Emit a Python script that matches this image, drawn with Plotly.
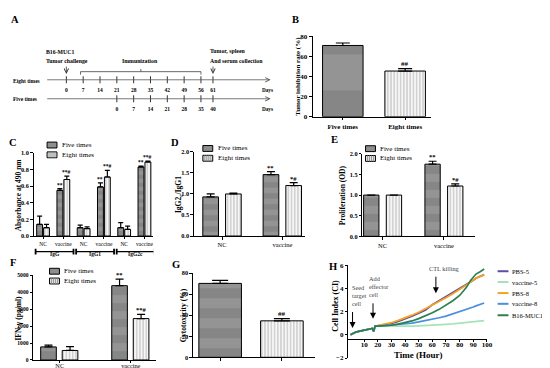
import plotly.graph_objects as go

W, H = 550, 368
def PX(v): return v / W
def PY(v): return 1 - v / H
SERIF = "Liberation Serif"

# ---------------- data ----------------
# A: immunization schedule (days)
eight_days = [0, 7, 14, 21, 28, 35, 42, 49, 56, 61]
five_days = [0, 7, 14, 21, 28, 35, 40]
five_start = 21          # five-times day 0 == eight-times day 21

# B: tumor inhibition rate (%)
b_labels = ["Five times", "Eight times"]
b_values = [71.0, 45.5]
b_errors = [2.5, 2.5]
b_marks = ["", "##"]

# C: antibody absorbance at 490 nm
c_ticks = ["NC", "vaccine", "NC", "vaccine", "NC", "vaccine"]
c_groups = ["IgG", "IgG1", "IgG2c"]
c_five = [0.14, 0.55, 0.10, 0.59, 0.10, 0.83]
c_five_err = [0.10, 0.02, 0.03, 0.05, 0.06, 0.01]
c_eight = [0.10, 0.68, 0.09, 0.71, 0.08, 0.89]
c_eight_err = [0.04, 0.04, 0.02, 0.08, 0.04, 0.01]
c_five_marks = ["", "**", "", "**", "", "**"]
c_eight_marks = ["", "**#", "", "**#", "", "**#"]

series_names = ["Five times", "Eight times"]
nc_vac = ["NC", "vaccine"]

# D: IgG2c / IgG1
d_five = [0.93, 1.46]
d_five_err = [0.07, 0.07]
d_eight = [1.00, 1.20]
d_eight_err = [0.02, 0.07]
d_five_marks = ["", "**"]
d_eight_marks = ["", "*#"]

# E: proliferation (OD)
e_five = [1.00, 1.75]
e_five_err = [0.0, 0.07]
e_eight = [1.00, 1.22]
e_eight_err = [0.0, 0.05]
e_five_marks = ["", "**"]
e_eight_marks = ["", "*#"]

# F: IFN-gamma (pg/ml)
f_five = [770, 4380]
f_five_err = [110, 380]
f_eight = [560, 2440]
f_eight_err = [230, 250]
f_five_marks = ["", "**"]
f_eight_marks = ["", "**#"]

# G: cytotoxicity (%)
g_values = [70.3, 34.7]
g_errors = [2.8, 2.2]
g_marks = ["", "##"]

# H: cell index over time
h_hours = [0, 2, 4, 6, 8, 10, 12, 14, 16, 17, 18, 20, 25, 30, 35, 40, 45, 50,
           55, 60, 65, 70, 75, 80, 85, 88, 90, 92, 95, 98]
h_start = [0, 0.15, 0.25, 0.3, 0.35, 0.4, 0.45, 0.5, 0.55, 0.3, 0.75]
h_pbs5 = h_start + [0.78, 0.86, 0.98, 1.16, 1.36, 1.6, 1.86, 2.15, 2.6, 2.95, 3.3,
                    3.62, 3.95, 4.3, 4.55, 4.72, 4.88, 5.05, 5.2]
h_vac5 = h_start + [0.75, 0.74, 0.74, 0.74, 0.75, 0.76, 0.78, 0.8, 0.83, 0.87, 0.91,
                    0.95, 1.0, 1.05, 1.09, 1.12, 1.15, 1.19, 1.22]
h_pbs8 = h_start + [0.8, 0.9, 1.05, 1.25, 1.45, 1.7, 1.95, 2.25, 2.55, 2.88, 3.2,
                    3.55, 3.9, 4.3, 4.55, 4.75, 4.9, 5.05, 5.18]
h_vac8 = h_start + [0.76, 0.8, 0.84, 0.88, 0.93, 1.02, 1.12, 1.22, 1.35, 1.48, 1.62,
                    1.8, 2.0, 2.2, 2.32, 2.4, 2.5, 2.62, 2.75]
h_b16 = h_start + [0.75, 0.78, 0.83, 0.93, 1.05, 1.2, 1.4, 1.62, 1.9, 2.2, 2.55,
                   2.95, 3.4, 4.1, 4.7, 5.0, 5.25, 5.45, 5.68]
h_names = ["PBS-5", "vaccine-5", "PBS-8", "vaccine-8", "B16-MUC1"]
h_series = [h_pbs5, h_vac5, h_pbs8, h_vac8, h_b16]
h_colors = ["#5a4ea6", "#a6e3b8", "#f7a220", "#4a90dc", "#2b8050"]

# ---------------- styles ----------------
FIVE_BG, FIVE_FG = "#868686", "#a2a2a2"
EIGHT_BG, EIGHT_FG = "#f6f6f6", "#7c7c7c"

fig = go.Figure()
annotations = []
shapes = []

def txt(x, y, s, size=7, bold=False, xref="paper", yref="paper", xanchor="center",
        yanchor="middle", angle=0, color="black", align="center"):
    annotations.append(dict(x=x, y=y, xref=xref, yref=yref, text=s, showarrow=False,
                            xanchor=xanchor, yanchor=yanchor, textangle=angle, align=align,
                            font=dict(family=SERIF, size=size, color=color,
                                      weight="bold" if bold else "normal")))

def five_marker(size):
    return dict(color=FIVE_BG, line=dict(color="black", width=1),
                pattern=dict(shape="-", bgcolor=FIVE_BG, fgcolor=FIVE_FG, size=size, solidity=0.5))

def eight_marker(size=3.2):
    return dict(color=EIGHT_BG, line=dict(color="black", width=1),
                pattern=dict(shape="|", bgcolor=EIGHT_BG, fgcolor=EIGHT_FG, size=size, solidity=0.3))

def err(vals, w):
    return dict(type="data", array=vals, arrayminus=[0] * len(vals), symmetric=False,
                color="black", thickness=1.2, width=w)

def marks(ax, xs, width, offset, vals, errs, labels, size=6.5):
    for x, v, e, s in zip(xs, vals, errs, labels):
        if s:
            annotations.append(dict(x=x + offset + width / 2, y=v + e, xref=ax[0], yref=ax[1],
                                    text=s, showarrow=False, yanchor="bottom", yshift=-1,
                                    font=dict(family=SERIF, size=size, color="black", weight="bold")))

def pair_panel(ax, five, five_e, eight, eight_e, width, off5, off8, psize, errw, m5, m8, msize=6.5):
    xs = list(range(len(five)))
    fig.add_trace(go.Bar(x=xs, y=five, width=width, offset=off5, xaxis=ax[0], yaxis=ax[1],
                         marker=five_marker(psize), error_y=err(five_e, errw), name=series_names[0]))
    fig.add_trace(go.Bar(x=xs, y=eight, width=width, offset=off8, xaxis=ax[0], yaxis=ax[1],
                         marker=eight_marker(), error_y=err(eight_e, errw), name=series_names[1]))
    marks(ax, xs, width, off5, five, five_e, m5, msize)
    marks(ax, xs, width, off8, eight, eight_e, m8, msize)

def legend_box(x0, yc, size=7):
    # swatches + labels for the two series
    for i, nm in enumerate(series_names):
        y = yc + i * 10
        shapes.append(dict(type="rect", xref="paper", yref="paper", x0=PX(x0), x1=PX(x0 + 10),
                           y0=PY(y + 3), y1=PY(y - 3), line=dict(color="black", width=1),
                           fillcolor="#8e8e8e" if i == 0 else "#e4e4e4"))
        if i == 1:
            for k in range(1, 5):
                xx = x0 + 2 * k
                shapes.append(dict(type="line", xref="paper", yref="paper", x0=PX(xx), x1=PX(xx),
                                   y0=PY(y + 3), y1=PY(y - 3), line=dict(color="#888", width=0.8)))
        txt(PX(x0 + 13), PY(y), nm, size=size, xanchor="left")

# ---------------- Panel A ----------------
fig.add_trace(go.Scatter(x=eight_days, y=[69.3] * len(eight_days), mode="markers", xaxis="x", yaxis="y",
                         marker=dict(symbol="line-ns", size=5, line=dict(width=1, color="#333"))))
fig.add_trace(go.Scatter(x=eight_days, y=[80] * len(eight_days), mode="text", xaxis="x", yaxis="y",
                         text=[str(d) for d in eight_days],
                         textfont=dict(family=SERIF, size=5.5, color="black", weight="bold")))
five_pos = [d + five_start for d in five_days]
fig.add_trace(go.Scatter(x=five_pos, y=[88.7] * len(five_pos), mode="markers", xaxis="x", yaxis="y",
                         marker=dict(symbol="line-ns", size=5, line=dict(width=1, color="#333"))))
fig.add_trace(go.Scatter(x=five_pos, y=[99.5] * len(five_pos), mode="text", xaxis="x", yaxis="y",
                         text=[str(d) for d in five_days],
                         textfont=dict(family=SERIF, size=5.5, color="black", weight="bold")))

for yy in (69.3, 88.7):
    annotations.append(dict(x=85, y=yy, ax=-8.6, ay=yy, xref="x", yref="y", axref="x", ayref="y",
                            showarrow=True, arrowhead=5, arrowsize=1.1, arrowwidth=0.8,
                            arrowcolor="#555", text=""))
for d in (eight_days[0], eight_days[-1]):
    annotations.append(dict(x=d, y=63.3, ax=d, ay=54.3, xref="x", yref="y", axref="x", ayref="y",
                            showarrow=True, arrowhead=5, arrowsize=1.1, arrowwidth=0.8,
                            arrowcolor="#333", text=""))
# immunization bracket
shapes.append(dict(type="path", xref="x", yref="y",
                   path="M 5.9 64 L 5.9 61 L 56 61 L 56 64", line=dict(color="#444", width=0.8)))
shapes.append(dict(type="line", xref="x", yref="y", x0=31, x1=31, y0=61, y1=58.3,
                   line=dict(color="#444", width=0.8)))
txt(PX(36), PY(40.5), "B16-MUC1", 5.8, True, xanchor="left")
txt(PX(36), PY(50.5), "Tumor challenge", 5.8, True, xanchor="left")
txt(PX(133.5), PY(50.5), "Immunization", 5.8, True)
txt(PX(202), PY(40), "Tumor, spleen", 5.8, True, xanchor="left")
txt(PX(202), PY(50.5), "And serum collection", 5.8, True, xanchor="left")
txt(PX(3), PY(70.5), "Eight times", 5.5, True, xanchor="left")
txt(PX(3), PY(88.5), "Five times", 5.5, True, xanchor="left")
txt(PX(255), PY(80), "Days", 5.2, True, xanchor="left")
txt(PX(255), PY(99.5), "Days", 5.2, True, xanchor="left")

# ---------------- Panel B ----------------
fig.add_trace(go.Bar(x=[0], y=[b_values[0]], width=0.65, offset=-0.325, xaxis="x2", yaxis="y2",
                     marker=five_marker(72), error_y=err([b_errors[0]], 7)))
fig.add_trace(go.Bar(x=[1], y=[b_values[1]], width=0.65, offset=-0.325, xaxis="x2", yaxis="y2",
                     marker=eight_marker(), error_y=err([b_errors[1]], 7)))
marks(("x2", "y2"), [0, 1], 0.65, -0.325, b_values, b_errors, b_marks, 7)

# ---------------- Panel C ----------------
pair_panel(("x3", "y3"), c_five, c_five_err, c_eight, c_eight_err, 0.29, -0.317, 0.024, 8, 2.5,
           c_five_marks, c_eight_marks, 5.5)
for i, g in enumerate(c_groups):
    a, b = 2 * i - 0.37, 2 * i + 1.5
    shapes.append(dict(type="line", xref="x3", yref="paper", x0=a, x1=b, y0=PY(245), y1=PY(245),
                       line=dict(color="black", width=1.2)))
    for e in (a, b):
        shapes.append(dict(type="line", xref="x3", yref="paper", x0=e, x1=e, y0=PY(242), y1=PY(248),
                           line=dict(color="black", width=1.8)))
    annotations.append(dict(x=(a + b) / 2, y=PY(252), xref="x3", yref="paper", text=g, showarrow=False,
                            font=dict(family=SERIF, size=5.5, color="black", weight="bold")))

# ---------------- Panel D, E, F ----------------
pair_panel(("x4", "y4"), d_five, d_five_err, d_eight, d_eight_err, 0.26, -0.32, 0.057, 11, 4,
           d_five_marks, d_eight_marks)
pair_panel(("x5", "y5"), e_five, e_five_err, e_eight, e_eight_err, 0.25, -0.31, 0.06, 16, 4,
           e_five_marks, e_eight_marks)
pair_panel(("x6", "y6"), f_five, f_five_err, f_eight, f_eight_err, 0.22, -0.268, 0.035, 16, 4,
           f_five_marks, f_eight_marks)

# ---------------- Panel G ----------------
fig.add_trace(go.Bar(x=[0], y=[g_values[0]], width=0.69, offset=-0.345, xaxis="x7", yaxis="y7",
                     marker=five_marker(20), error_y=err([g_errors[0]], 8)))
fig.add_trace(go.Bar(x=[1], y=[g_values[1]], width=0.69, offset=-0.345, xaxis="x7", yaxis="y7",
                     marker=eight_marker(), error_y=err([g_errors[1]], 8)))
marks(("x7", "y7"), [0, 1], 0.69, -0.345, g_values, g_errors, g_marks, 7)

# ---------------- Panel H ----------------
for nm, ys, col in zip(h_names, h_series, h_colors):
    fig.add_trace(go.Scatter(x=h_hours, y=ys, mode="lines", name=nm, xaxis="x8", yaxis="y8",
                             line=dict(color=col, width=1.7)))
for i, (nm, col) in enumerate(zip(h_names, h_colors)):
    yy = [265, 276, 287.3, 298.3, 310][i]
    shapes.append(dict(type="line", xref="paper", yref="paper", x0=PX(495), x1=PX(506),
                       y0=PY(yy), y1=PY(yy), line=dict(color=col, width=2)))
    txt(PX(507.5), PY(yy), nm, 6.5, xanchor="left")

ann_col = "#444"
txt(-0.3, 4.55, "Seed<br>target<br>cell", 6.3, xref="x8", yref="y8", xanchor="left",
    yanchor="top", color=ann_col, align="left")
txt(12.2, 5.3, "Add<br>effector<br>cell", 6.3, xref="x8", yref="y8", xanchor="left",
    yanchor="top", color=ann_col, align="left")
txt(56, 5.7, "CTL killing", 6.3, xref="x8", yref="y8", xanchor="left", color=ann_col)
for hx, y0, y1 in [(1.5, 2.1, 0.6), (16.5, 2.85, 1.4), (62.6, 5.15, 3.6)]:
    annotations.append(dict(x=hx, y=y1, ax=hx, ay=y0, xref="x8", yref="y8", axref="x8", ayref="y8",
                            showarrow=True, arrowhead=2, arrowsize=1.2, arrowwidth=1,
                            arrowcolor="black", text=""))

# ---------------- titles / letters ----------------
for L, x, y in [("A", 7, 8), ("B", 291, 8), ("C", 5, 133), ("D", 169, 133), ("E", 330, 130),
                ("F", 5, 256), ("G", 170, 258), ("H", 329, 260)]:
    txt(PX(x), PY(y), L, 10.5, True)
txt(PX(292.5), PY(66), "Tumor inhibition rate (%)", 7, True, angle=-90)
txt(PX(11.5), PY(187), "Absorbance at 490 nm", 7.5, True, angle=-90)
txt(PX(173), PY(187), "IgG2<sub>c</sub>/IgG1", 7.5, True, angle=-90)
txt(PX(339), PY(187), "Proliferation (OD)", 7.5, True, angle=-90)
txt(PX(10.5), PY(313), "IFN-γ (pg/ml)", 7.5, True, angle=-90)
txt(PX(177), PY(310), "Cytotoxicity (%)", 7.5, True, angle=-90)
txt(PX(331), PY(300), "Cell Index (CI)", 8, True, angle=-90)
txt(PX(415), PY(350.5), "Time (Hour)", 9, True)

legend_box(39.5, 136)
legend_box(197, 139.5)
legend_box(361.5, 139.7)
legend_box(42, 265)

# ---------------- axes ----------------
TF = dict(family=SERIF, size=7, color="black", weight="bold")
def xax(x0, x1, rng, anchor, **kw):
    d = dict(domain=[PX(x0), PX(x1)], range=rng, anchor=anchor, showline=True, linecolor="black",
             linewidth=1.2, ticks="outside", ticklen=2.5, tickcolor="black", showgrid=False,
             zeroline=False, fixedrange=True, tickfont=dict(family=SERIF, size=6.5, color="black"))
    d.update(kw)
    return d
def yax(top, bot, rng, anchor, dtick, **kw):
    d = dict(domain=[PY(bot), PY(top)], range=rng, anchor=anchor, showline=True, linecolor="black",
             linewidth=1.2, ticks="outside", ticklen=3, tickcolor="black", showgrid=False,
             zeroline=False, fixedrange=True, dtick=dtick, tickfont=TF)
    d.update(kw)
    return d

small_bold = dict(family=SERIF, size=6.3, color="black", weight="bold")
layout_axes = dict(
    xaxis=dict(domain=[0, 0.5], range=[-24.28, 88.89], visible=False, fixedrange=True, anchor="y"),
    yaxis=dict(domain=[PY(110), 1], range=[110, 0], visible=False, fixedrange=True, anchor="x"),
    xaxis2=xax(308, 428, [-0.484, 1.42], "y2", tickvals=[0, 1], ticktext=b_labels,
               tickfont=dict(family=SERIF, size=7, color="black", weight="bold")),
    yaxis2=yax(25, 107, [0, 80], "x2", 20),
    xaxis3=xax(26, 147, [-0.463, 5.44], "y3", tickvals=list(range(6)), ticktext=c_ticks,
               tickfont=dict(family=SERIF, size=5.5, color="black"), ticklen=2),
    yaxis3=yax(144, 229, [0, 1.0], "x3", 0.2, tickformat=".1f", tickfont=small_bold, ticklen=2.5),
    xaxis4=xax(188, 300, [-0.467, 1.37], "y4", tickvals=[0, 1], ticktext=nc_vac),
    yaxis4=yax(143, 229, [0, 2.0], "x4", 0.5, tickformat=".1f", tickfont=small_bold, ticklen=2.5),
    xaxis5=xax(358.3, 471.7, [-0.33, 1.5], "y5", tickvals=[0, 1], ticktext=nc_vac),
    yaxis5=yax(145, 229.3, [0, 2.0], "x5", 0.5, tickformat=".1f", tickfont=small_bold, ticklen=2.5),
    xaxis6=xax(25, 150, [-0.38, 1.36], "y6", tickvals=[0, 1], ticktext=nc_vac, ticklen=2,
               ticklabelstandoff=-3, tickfont=dict(family=SERIF, size=6.3, color="black")),
    yaxis6=yax(269, 355.7, [0, 5000], "x6", 1000, ticklen=2,
               tickfont=dict(family=SERIF, size=5.6, color="black", weight="bold")),
    xaxis7=xax(187, 310, [-0.44, 1.53], "y7", tickvals=[0, 1], showticklabels=False),
    yaxis7=yax(267, 353, [0, 80], "x7", 20, tickfont=small_bold, ticklen=2.5),
    xaxis8=xax(344.2, 484.2, [-1.5, 100], "free", position=PY(334), tickvals=list(range(10, 101, 10)),
               tickfont=dict(family=SERIF, size=7, color="black", weight="bold"), ticklen=2,
               ticklabelstandoff=-3),
    yaxis8=yax(259, 353.7, [-2, 6], "x8", 2, tickfont=dict(family=SERIF, size=7, color="black",
                                                             weight="bold"), ticklen=2.5),
)

fig.update_layout(width=W, height=H, margin=dict(l=0, r=0, t=0, b=0), showlegend=False,
                  paper_bgcolor="white", plot_bgcolor="white", barmode="overlay",
                  annotations=annotations, shapes=shapes, **layout_axes)
fig.write_html("out.html")
